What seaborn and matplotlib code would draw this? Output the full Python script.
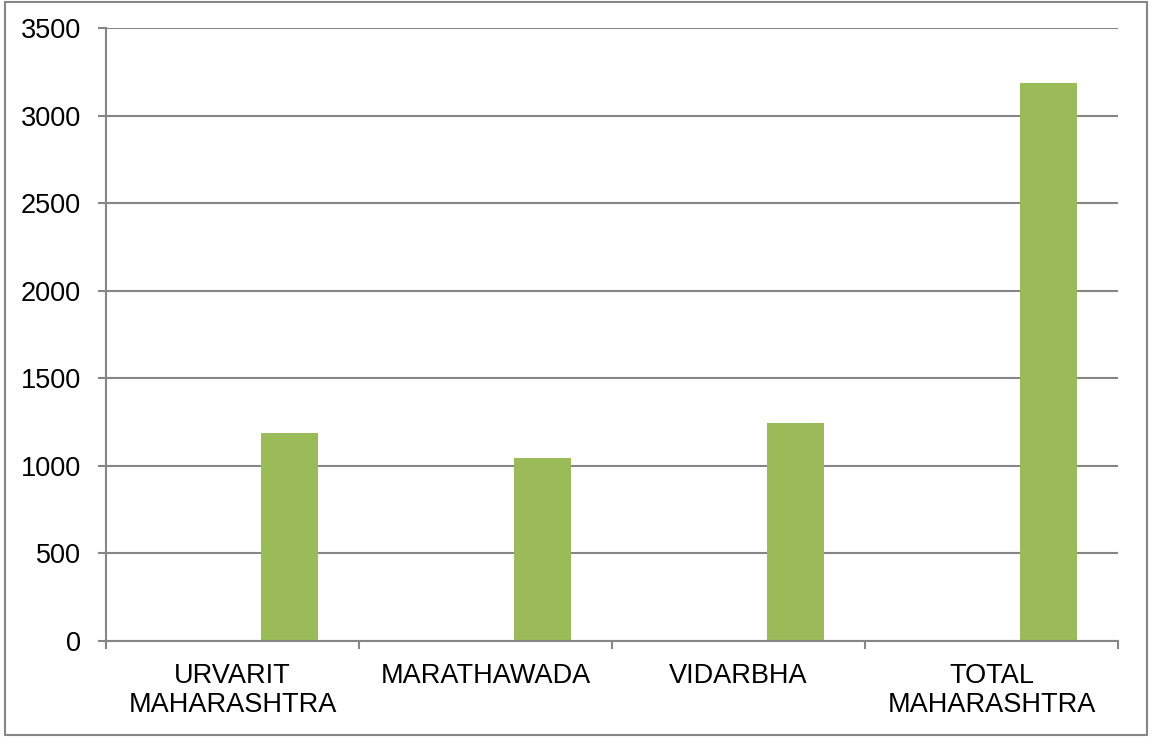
import matplotlib
matplotlib.use('Agg')
import matplotlib.pyplot as plt
import seaborn as sns
import pandas as pd
from matplotlib.patches import Rectangle

# Data (only the third series carries values)
categories = ['URVARIT\nMAHARASHTRA', 'MARATHAWADA', 'VIDARBHA', 'TOTAL\nMAHARASHTRA']
series_names = ['Series1', 'Series2', 'Series3']
series1 = [0, 0, 0, 0]
series2 = [0, 0, 0, 0]
series3 = [1188, 1045, 1245, 3187]
y_ticks = [0, 500, 1000, 1500, 2000, 2500, 3000, 3500]

PALETTE = ['#4F81BD', '#C0504D', '#9BBB59']
GRID = '#868686'

df = pd.DataFrame({
    'category': categories * 3,
    'series': [s for s in series_names for _ in categories],
    'value': series1 + series2 + series3,
})

sns.set_style('white')
plt.rcParams['font.family'] = ['Liberation Sans', 'DejaVu Sans']
plt.rcParams['text.color'] = 'black'
plt.rcParams['xtick.color'] = 'black'
plt.rcParams['ytick.color'] = 'black'

fig = plt.figure(figsize=(11.57, 7.37), dpi=100)
ax = fig.add_axes([106 / 1157, 1 - 641 / 737, 1012 / 1157, 613 / 737])

sns.barplot(data=df, x='category', y='value', hue='series', order=categories,
            hue_order=series_names, palette=PALETTE, saturation=1, width=0.675,
            linewidth=0, legend=False, ax=ax)

ax.set_ylim(0, 3500)
ax.set_xlim(-0.5, len(categories) - 0.5)
ax.set_yticks(y_ticks)
ax.set_yticklabels([str(v) for v in y_ticks], fontsize=19.5, color='black')
ax.yaxis.grid(True, color=GRID, linewidth=1.5)
ax.set_axisbelow(True)

# category boundaries as major ticks, labels on minor ticks at centres
ax.set_xticks([i - 0.5 for i in range(len(categories) + 1)])
ax.set_xticklabels([])
ax.set_xticks(range(len(categories)), minor=True)
ax.set_xticklabels(categories, minor=True, fontsize=19.5, linespacing=1.15,
                   color='black')
ax.tick_params(axis='x', which='minor', bottom=True, length=0, pad=16)
ax.tick_params(axis='x', which='major', bottom=True, length=6, width=1.5,
               color=GRID, direction='out')
ax.tick_params(axis='y', left=True, length=6, width=1.5, color=GRID, pad=12)

for side in ['top', 'right']:
    ax.spines[side].set_visible(False)
for side in ['left', 'bottom']:
    ax.spines[side].set_color(GRID)
    ax.spines[side].set_linewidth(1.5)

ax.set_xlabel('')
ax.set_ylabel('')

# outer chart frame
fig.patches.append(Rectangle((5 / 1157, 2 / 737), 1142 / 1157, 733 / 737,
                             transform=fig.transFigure, fill=False,
                             edgecolor=GRID, linewidth=1.5))

fig.savefig('out.png', dpi=100)
